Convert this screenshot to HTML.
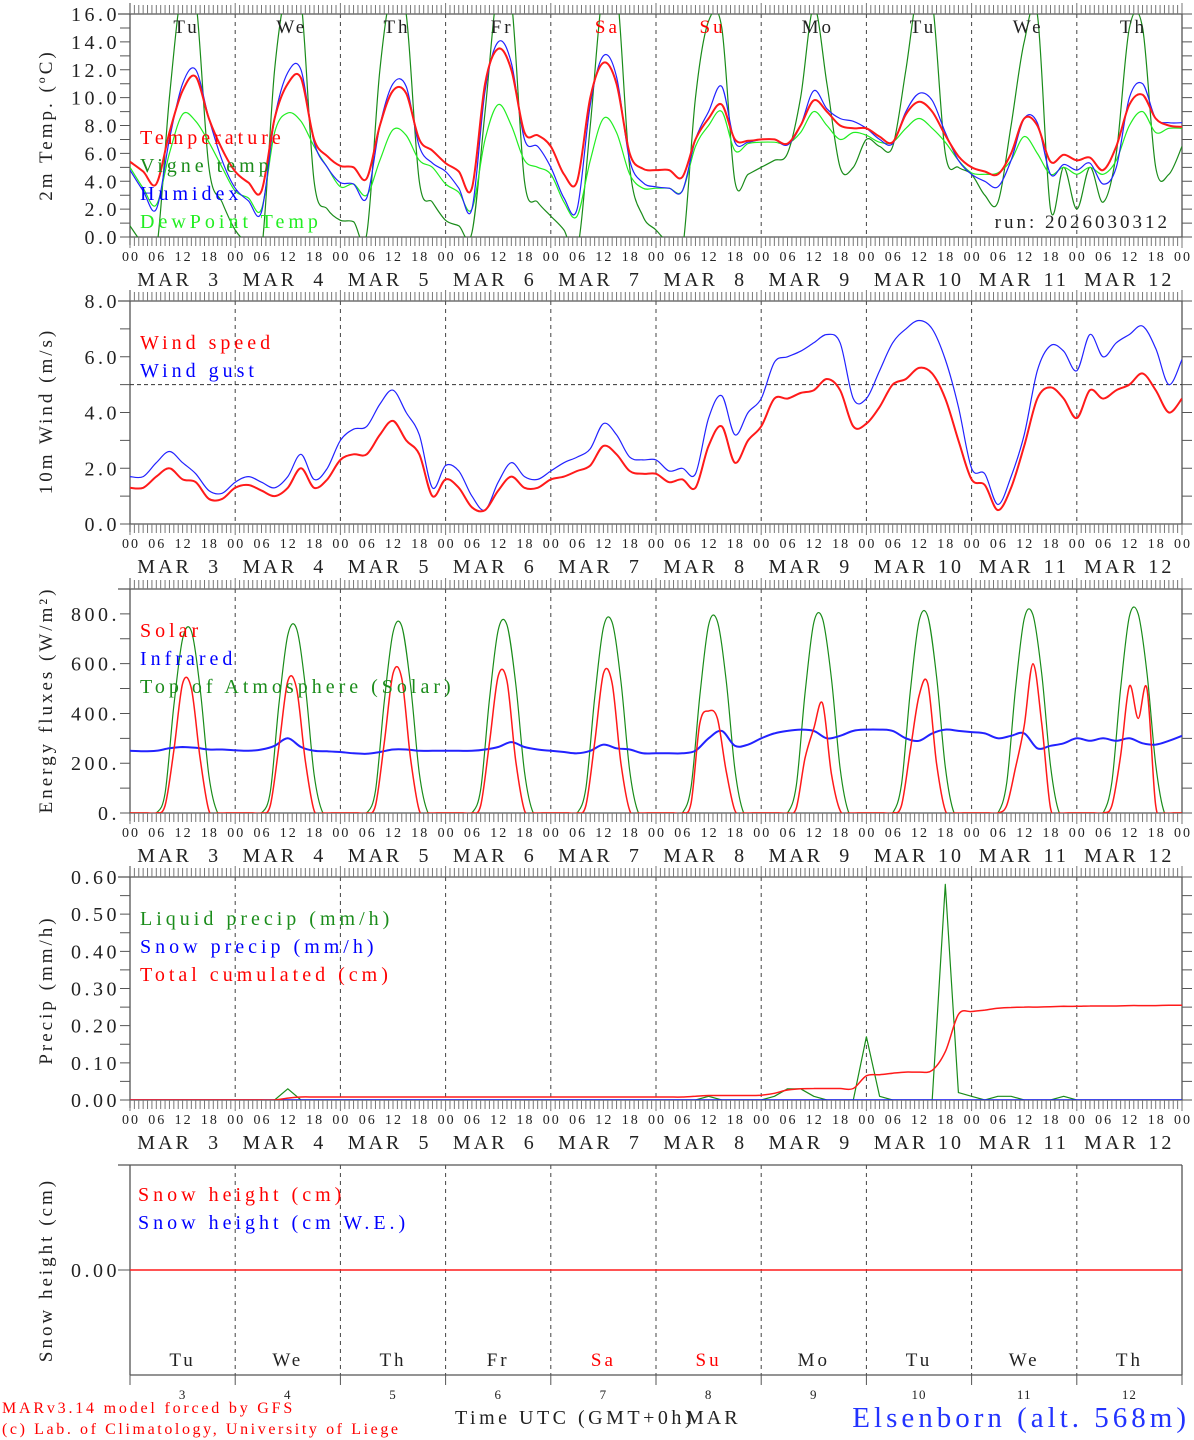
<!DOCTYPE html>
<html><head><meta charset="utf-8"><style>
html,body{margin:0;padding:0;background:#fff;}
svg{display:block;font-family:"Liberation Serif",serif;}
</style></head><body>
<svg id="chart" width="1194" height="1440" viewBox="0 0 1194 1440" xmlns="http://www.w3.org/2000/svg"></svg>
<script>
// ---------- data (3-hourly from MAR 3 00UTC to MAR 13 00UTC, 81 values) ----------
const days = ["3","4","5","6","7","8","9","10","11","12"];
const weekdays = ["Tu","We","Th","Fr","Sa","Su","Mo","Tu","We","Th"];
const weekdayColors = ["#222","#222","#222","#222","red","red","#222","#222","#222","#222"];
const hourLabels = ["00","06","12","18"];
const tempValues = [5.4,4.7,3.8,7.5,10.5,11.5,8.5,6.3, 4.7,3.9,3.3,8.5,11.0,11.4,7.0,5.8, 5.1,5.0,4.2,8.0,10.5,10.3,7.0,6.2, 5.3,4.7,3.5,11.0,13.5,12.0,7.5,7.3, 6.5,4.5,4.0,10.0,12.5,11.0,6.0,4.9, 4.8,4.8,4.3,7.0,8.5,9.5,7.0,6.9, 7.0,7.0,6.7,8.0,9.8,9.0,8.0,7.8, 7.8,7.2,6.8,8.8,9.7,9.0,7.3,5.8, 5.0,4.7,4.5,6.0,8.5,8.0,5.4,5.9, 5.5,5.7,4.8,6.5,9.5,10.2,8.5,8.0,7.9];
const humidexValues = [4.8,3.3,2.0,7.0,11.0,12.0,8.5,5.5, 3.5,2.6,1.8,8.5,11.8,12.0,6.8,5.0, 3.9,3.8,2.8,8.0,11.0,10.8,6.5,5.3, 4.7,3.5,2.0,10.5,14.0,12.5,7.0,6.5, 5.0,2.8,2.0,9.5,13.0,11.5,5.5,3.9, 3.6,3.5,3.3,7.0,9.0,10.8,6.8,6.8, 7.0,7.0,6.6,8.0,10.5,9.2,8.5,8.3, 7.8,7.0,6.7,9.0,10.3,9.8,7.5,5.5, 4.5,4.0,3.6,5.5,8.5,8.2,4.5,5.2, 4.8,5.3,3.8,5.0,10.0,11.0,8.5,8.2,8.2];
const dewValues = [5.0,3.5,2.3,6.0,8.8,8.3,6.8,5.0, 3.3,2.8,2.0,7.5,8.9,8.3,6.5,5.0, 3.6,3.8,3.0,5.5,7.7,7.3,5.5,5.0, 3.8,3.2,2.0,7.0,9.5,8.0,5.5,5.0, 4.5,2.5,1.5,5.5,8.5,7.5,4.5,3.5, 3.5,3.5,3.3,6.5,8.0,9.0,6.2,6.7, 6.8,6.8,6.7,7.5,9.0,8.0,7.0,7.5, 7.3,6.8,6.8,7.8,8.5,7.8,6.8,5.5, 4.6,4.5,4.6,5.5,7.2,6.0,4.5,5.0, 4.5,5.0,4.5,5.5,8.0,9.0,7.5,7.8,7.8];
const vigneValues = [0.8,-0.5,-1,10,18,17,5,2.5, 0.5,-0.5,-1,12,18,17,4,2, 1.2,1.1,0.2,12,18,16,4,2.5, 1.2,0.8,0.3,9,18,17,4,2.5, 1.5,0.5,-1,8,18,18,5,1.5, 0.5,-0.5,-1,10,15.5,15,4,4.5, 5.0,5.5,6.0,10,16.5,11,5,5, 7.0,6.5,6.5,12,18,17,6,5.0, 4.5,3,2.5,8,14,16,2,5, 2.0,5,2.5,6,15,15,5,4.5,6.5];
const windSpeed = [1.3,1.3,1.7,2.0,1.6,1.5,0.9,0.9, 1.3,1.4,1.2,1.0,1.3,2.0,1.3,1.6, 2.3,2.5,2.5,3.2,3.7,3.0,2.5,1.0, 1.6,1.3,0.6,0.5,1.2,1.7,1.3,1.3, 1.6,1.7,1.9,2.1,2.8,2.5,1.9,1.8, 1.8,1.5,1.6,1.3,2.8,3.5,2.2,3.0, 3.5,4.5,4.5,4.7,4.8,5.2,4.8,3.5, 3.6,4.2,5.0,5.2,5.6,5.4,4.5,3.0, 1.6,1.4,0.5,1.3,2.8,4.5,4.9,4.5, 3.8,4.8,4.5,4.8,5.0,5.4,4.8,4.0,4.5];
const windGust = [1.7,1.7,2.2,2.6,2.2,1.8,1.2,1.1, 1.5,1.7,1.5,1.3,1.7,2.5,1.6,2.0, 3.0,3.4,3.5,4.3,4.8,4.0,3.2,1.3, 2.1,1.9,1.0,0.5,1.5,2.2,1.7,1.6, 1.9,2.2,2.4,2.7,3.6,3.2,2.4,2.3, 2.3,1.9,2.0,1.8,3.8,4.6,3.2,4.0, 4.5,5.8,6.0,6.2,6.5,6.8,6.5,4.5, 4.5,5.5,6.5,7.0,7.3,7.0,5.9,4.2, 2.0,1.8,0.7,1.7,3.2,5.5,6.4,6.2, 5.5,6.8,6.0,6.5,6.8,7.1,6.3,5.0,5.9];
const infraredValues = [250,248,250,260,265,262,255,255, 252,250,255,270,300,265,250,248, 245,240,238,245,255,255,250,250, 250,250,250,255,265,285,265,255, 250,245,240,250,275,260,255,240, 240,240,240,250,300,330,270,275, 300,320,330,335,330,300,310,330, 335,335,330,300,290,320,335,330, 325,320,300,310,320,260,270,280, 300,290,300,290,300,280,275,290,310];
// 2-hourly energy fluxes (12 per day + final)
const toaValues = [0,0,0,0,80,430,700,730,500,150,0,0, 0,0,0,0,85,440,715,740,510,155,0,0, 0,0,0,0,90,445,725,750,515,160,0,0, 0,0,0,0,95,455,735,755,520,165,0,0, 0,0,0,0,100,460,745,765,530,170,0,0, 0,0,0,0,105,470,755,770,535,175,0,0, 0,0,0,0,110,480,765,780,545,180,0,0, 0,0,0,0,115,485,770,790,550,185,0,0, 0,0,0,0,120,495,780,795,560,190,0,0, 0,0,0,0,125,500,790,800,565,195,0,0,0];
const solarValues = [0,0,0,0,30,250,520,500,220,10,0,0, 0,0,0,0,30,270,530,500,210,10,0,0, 0,0,0,0,30,280,560,540,220,10,0,0, 0,0,0,0,30,280,550,530,210,10,0,0, 0,0,0,0,30,280,560,520,200,10,0,0, 0,0,0,0,40,360,410,380,170,10,0,0, 0,0,0,0,20,220,340,440,160,10,0,0, 0,0,0,0,30,250,470,520,200,10,0,0, 0,0,0,0,30,180,350,600,360,20,0,0, 0,0,0,0,30,230,510,380,500,30,0,0,0];
const liquidPrecip = [0,0,0,0,0,0,0,0, 0,0,0,0,0.03,0,0,0, 0,0,0,0,0,0,0,0, 0,0,0,0,0,0,0,0, 0,0,0,0,0,0,0,0, 0,0,0,0,0.01,0,0,0, 0,0.01,0.03,0.03,0.01,0,0,0, 0.17,0.01,0,0,0,0,0.58,0.02, 0.01,0,0.01,0.01,0,0,0,0.01, 0,0,0,0,0,0,0,0,0];
const snowPrecip = [0,0,0,0,0,0,0,0, 0,0,0,0,0,0,0,0, 0,0,0,0,0,0,0,0, 0,0,0,0,0,0,0,0, 0,0,0,0,0,0,0,0, 0,0,0,0,0,0,0,0, 0,0,0,0,0,0,0,0, 0,0,0,0,0,0,0,0, 0,0,0,0,0,0,0,0, 0,0,0,0,0,0,0,0,0];
const cumulPrecip = [0,0,0,0,0,0,0,0, 0,0,0,0,0.005,0.008,0.008,0.008, 0.008,0.008,0.008,0.008,0.008,0.008,0.008,0.008, 0.008,0.008,0.008,0.008,0.008,0.008,0.008,0.008, 0.008,0.008,0.008,0.008,0.008,0.008,0.008,0.008, 0.008,0.008,0.008,0.01,0.012,0.012,0.012,0.012, 0.013,0.018,0.027,0.03,0.031,0.031,0.031,0.031, 0.065,0.068,0.072,0.075,0.075,0.08,0.13,0.23, 0.238,0.242,0.247,0.249,0.25,0.25,0.251,0.252, 0.252,0.253,0.253,0.253,0.254,0.254,0.254,0.255,0.255];
const snowHeight = [0,0,0,0,0,0,0,0,0,0,0];

// ---------- drawing ----------
const svg = document.getElementById('chart');
const NS = "http://www.w3.org/2000/svg";
const X0 = 130, X1 = 1182, DAYW = (X1 - X0) / 10;
function xOfHour(h){ return X0 + h * DAYW / 24; }
function mk(tag, attrs, parent){
  const e = document.createElementNS(NS, tag);
  for (const k in attrs) e.setAttribute(k, attrs[k]);
  (parent || svg).appendChild(e);
  return e;
}
function txt(s, x, y, size, color, anchor, parent, ls){
  const t = mk('text', {x:x, y:y, 'font-size':size, fill:color, 'text-anchor':anchor||'start', 'xml:space':'preserve', 'letter-spacing':(ls===undefined?0:ls)}, parent);
  t.textContent = s;
  return t;
}

const panels = [
  {name:'temperature-panel', top:14, bottom:237, min:0, max:16, major:2, minor:1, fmt:v=>v.toFixed(1), title:'2m Temp. (ºC)', titleY:125},
  {name:'wind-panel', top:301, bottom:524, min:0, max:8, major:2, minor:1, fmt:v=>v.toFixed(1), title:'10m Wind (m/s)', titleY:411},
  {name:'energy-panel', top:589, bottom:813, min:0, max:900, major:200, minor:100, fmt:v=>v.toFixed(0)+'.', title:'Energy fluxes (W/m²)', titleY:700, majorMax:800},
  {name:'precip-panel', top:877, bottom:1100, min:0, max:0.6, major:0.1, minor:0.05, fmt:v=>v.toFixed(2), title:'Precip (mm/h)', titleY:990},
  {name:'snow-panel', top:1165, bottom:1375, min:-1, max:1, title:'Snow height (cm)', titleY:1270, snow:true}
];

panels.forEach((p, pi) => {
  const g = mk('g', {});
  
  
  p.y = v => p.bottom - (v - p.min) / (p.max - p.min) * (p.bottom - p.top);
  const clipId = 'clip' + pi;
  const cp = mk('clipPath', {id:clipId}, g);
  mk('rect', {x:X0, y:p.top, width:X1 - X0, height:p.bottom - p.top}, cp);
  p.clip = clipId; p.g = g;
  for (let d = 1; d < 10; d++){
    const dl = mk('line', {x1:X0 + d*DAYW, x2:X0 + d*DAYW, y1:p.top, y2:p.bottom, stroke:'#444', 'stroke-width':1, 'stroke-dasharray':'4,4'}, g);
    
    
  }
  const frame = mk('path', {d:`M${X0-12},${p.top}H${X1}M${X0},${p.snow?p.top:p.top-11}V${p.bottom+(p.snow?0:8)}M${X1},${p.top}V${p.bottom}M${X0},${p.bottom}H${X1}`, stroke:'#555', 'stroke-width':1.3, fill:'none'}, g);
  
  
  if (!p.snow){
    let d = '';
    for (let h = 0; h <= 240; h++){
      const x = xOfHour(h);
      const big = h % 24 === 0;
      d += `M${x},${p.top}v${big?-11:-9}M${x},${p.bottom}v${big?11:9}`;
    }
    mk('path', {d:d, stroke:'#777', 'stroke-width':1, fill:'none'}, g);
    let yd = '';
    for (let v = p.min; v <= p.max + 1e-9; v += p.minor){
      const y = p.y(v);
      yd += `M${X0-10},${y}H${X0}M${X1},${y}H${X1+10}`;
    }
    mk('path', {d:yd, stroke:'#555', 'stroke-width':1, fill:'none'}, g);
    const mm = p.majorMax !== undefined ? p.majorMax : p.max;
    for (let v = p.min; v <= mm + 1e-9; v += p.major){
      const t = txt(p.fmt(v), X0 - 10, p.y(v) + 7, 20, '#222', 'end', g, 3.5);
      
      
    }
    const lblY = p.bottom + 24, dateY = p.bottom + 49;
    for (let d2 = 0; d2 <= 10; d2++){
      hourLabels.forEach((hl, hi) => {
        if (d2 === 10 && hi > 0) return;
        const t = txt(hl, xOfHour(d2*24 + hi*6) + 1, lblY, 14, '#222', 'middle', g, 2);
        
        
      });
    }
    days.forEach((dd, i) => {
      const cx = X0 + i*DAYW + DAYW/2;
      const t1 = txt('MAR', cx - 18, dateY, 20, '#222', 'middle', g, 3);
      
      
      const t2 = txt(dd, cx + 32, dateY, 20, '#222', 'middle', g, 3);
      
      
    });
  } else {
    mk('path', {d:`M${X0-12},${p.y(0)}H${X0}`, stroke:'#555', 'stroke-width':1}, g);
    const t = txt('0.00', X0 - 10, p.y(0) + 7, 20, '#222', 'end', g, 3.5);
    
    
    let d = '';
    for (let i = 0; i <= 10; i++) d += `M${X0 + i*DAYW},${p.bottom}v10`;
    mk('path', {d:d, stroke:'#555', 'stroke-width':1}, g);
    days.forEach((dd, i) => {
      const cx = X0 + i*DAYW + DAYW/2;
      const t1 = txt(weekdays[i], cx, 1366, 19, weekdayColors[i], 'middle', g, 3);
      
      
      const t2 = txt(dd, cx, 1399, 13, '#222', 'middle', g, 1);
      
      
    });
  }
  const tt = txt(p.title, 0, 0, 19, '#222', 'middle', g, 3);
  tt.setAttribute('transform', `translate(52,${p.titleY}) rotate(-90)`);
  
  
});

function series(p, values, stepH, color, width, name, smooth){
  const pts = values.map((v, i) => [xOfHour(i*stepH), p.y(v)]);
  let d = 'M' + pts[0][0].toFixed(1) + ',' + pts[0][1].toFixed(1);
  for (let i = 1; i < pts.length; i++){
    if (smooth){
      const p0 = pts[Math.max(0, i-2)], p1 = pts[i-1], p2 = pts[i], p3 = pts[Math.min(pts.length-1, i+1)];
      const c1x = p1[0] + (p2[0]-p0[0])/6, c1y = p1[1] + (p2[1]-p0[1])/6;
      const c2x = p2[0] - (p3[0]-p1[0])/6, c2y = p2[1] - (p3[1]-p1[1])/6;
      d += `C${c1x.toFixed(1)},${c1y.toFixed(1)} ${c2x.toFixed(1)},${c2y.toFixed(1)} ${p2[0].toFixed(1)},${p2[1].toFixed(1)}`;
    } else {
      d += 'L' + pts[i][0].toFixed(1) + ',' + pts[i][1].toFixed(1);
    }
  }
  const path = mk('path', {d:d, stroke:color, 'stroke-width':width, fill:'none', 'clip-path':`url(#${p.clip})`, 'stroke-linejoin':'round'}, p.g);
  
  
}
function legend(p, items, x, y0){
  items.forEach((it, i) => {
    const t = txt(it[0], x, y0 + i*28, 20, it[1], 'start', p.g, 4);
    
    
  });
}

const P = panels;
series(P[0], vigneValues, 3, '#1a8c1a', 1.2, 'vigne-temp-line', true);
series(P[0], dewValues, 3, '#22ee22', 1.2, 'dewpoint-line', true);
series(P[0], humidexValues, 3, '#2222ff', 1.2, 'humidex-line', true);
series(P[0], tempValues, 3, '#ff1a1a', 2, 'temperature-line', true);
weekdays.forEach((w, i) => {
  const t = txt(w, X0 + i*DAYW + DAYW/2 + 4, 33, 19, weekdayColors[i], 'middle', P[0].g, 3);
  
  
});
legend(P[0], [['Temperature','red'],['Vigne temp','#1a8c1a'],['Humidex','blue'],['DewPoint Temp','#22ee22']], 140, 144);
const run = txt('run: 2026030312', 1170, 228, 19, '#222', 'end', P[0].g, 3);


const ref = mk('line', {x1:X0, x2:X1, y1:P[1].y(5), y2:P[1].y(5), stroke:'#333', 'stroke-width':1, 'stroke-dasharray':'4,3'}, P[1].g);


series(P[1], windGust, 3, '#2222ff', 1.2, 'wind-gust-line', true);
series(P[1], windSpeed, 3, '#ff1a1a', 2, 'wind-speed-line', true);
legend(P[1], [['Wind speed','red'],['Wind gust','blue']], 140, 349);
series(P[2], toaValues, 2, '#1a8c1a', 1.2, 'toa-solar-line', true);
series(P[2], infraredValues, 3, '#2222ff', 2, 'infrared-line', true);
series(P[2], solarValues, 2, '#ff1a1a', 1.5, 'solar-line', true);
legend(P[2], [['Solar','red'],['Infrared','blue'],['Top of Atmosphere (Solar)','#1a8c1a']], 140, 637);
series(P[3], liquidPrecip, 3, '#1a8c1a', 1.2, 'liquid-precip-line', false);
series(P[3], snowPrecip, 3, '#2222ff', 1.5, 'snow-precip-line', false);
series(P[3], cumulPrecip, 3, '#ff1a1a', 1.5, 'cumulated-precip-line', true);
legend(P[3], [['Liquid precip (mm/h)','#1a8c1a'],['Snow precip (mm/h)','blue'],['Total cumulated (cm)','red']], 140, 925);
series(P[4], snowHeight, 24, '#ff1a1a', 1.5, 'snow-height-line', false);
legend(P[4], [['Snow height (cm)','red'],['Snow height (cm W.E.)','blue']], 138, 1201);

const f1 = txt('MARv3.14 model forced by GFS', 2, 1413, 16, 'red', 'start', null, 2.8);


const f2 = txt('(c) Lab. of Climatology, University of Liege', 2, 1434, 16, 'red', 'start', null, 2.6);


const xt = txt('Time UTC (GMT+0h)', 455, 1424, 20, '#222', 'start', null, 3.5);


const xm = txt('MAR', 686, 1424, 20, '#222', 'start', null, 3);


const st = txt('Elsenborn (alt. 568m)', 1190, 1427, 29, '#2233ff', 'end', null, 4);


</script>
</body></html>
